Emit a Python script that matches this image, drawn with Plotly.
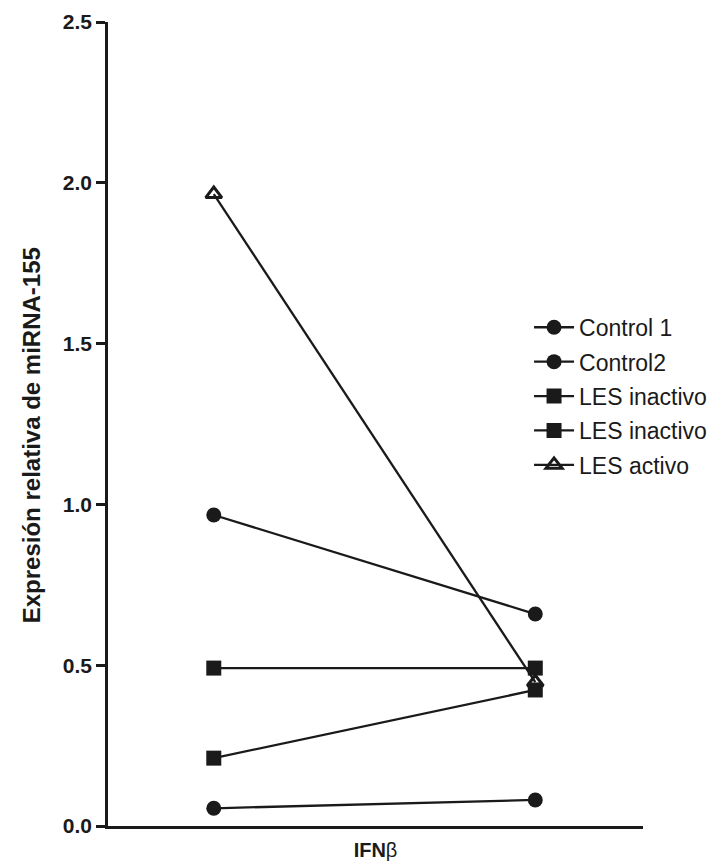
import plotly.graph_objects as go

# Data
x_positions = [0, 1]
series_names = ["Control 1", "Control2", "LES inactivo", "LES inactivo", "LES activo"]
control1 = [0.055, 0.081]
control2 = [0.967, 0.659]
les_inactivo_1 = [0.491, 0.491]
les_inactivo_2 = [0.211, 0.423]
les_activo = [1.965, 0.447]
y_ticks = [0.0, 0.5, 1.0, 1.5, 2.0, 2.5]
y_tick_labels = ["0.0", "0.5", "1.0", "1.5", "2.0", "2.5"]
y_title = "Expresión relativa de miRNA-155"
x_title = "<b>IFN</b>β"

series_values = [control1, control2, les_inactivo_1, les_inactivo_2, les_activo]
symbols = ["circle", "circle", "square", "square", "triangle-up-open"]
draw_order = [4, 0, 1, 2, 3]

ink = "#1a1a1a"
font_family = "Liberation Sans, Arial, sans-serif"

fig = go.Figure()
for i in range(5):
    sym = symbols[i]
    is_open = sym.endswith("open")
    fig.add_trace(go.Scatter(
        x=x_positions, y=series_values[i], mode="lines+markers",
        name=series_names[i], legendgroup=f"g{i}", legendrank=i + 1,
        line=dict(color=ink, width=2.3),
        marker=dict(symbol=sym, size=15 if not is_open else 14, color=ink,
                    line=dict(color=ink, width=3 if is_open else 0)),
        showlegend=True,
    ))
# triangle drawn first (beneath)
fig.data = tuple(fig.data[j] for j in draw_order)

fig.update_layout(
    width=718, height=865,
    margin=dict(l=100, r=83, t=14, b=47, autoexpand=False),
    paper_bgcolor="white", plot_bgcolor="white",
    font=dict(family=font_family, color=ink),
    showlegend=True,
    legend=dict(
        x=0.787, y=0.647, xanchor="left", yanchor="top",
        font=dict(size=23, family=font_family, color=ink),
        tracegroupgap=1.5, itemwidth=40,
        bgcolor="rgba(0,0,0,0)",
    ),
    xaxis=dict(
        range=[-0.329, 1.335], showgrid=False, zeroline=False,
        showline=True, linecolor=ink, linewidth=2.5, automargin=False,
        showticklabels=False, ticks="",
        title=dict(text=x_title, font=dict(size=20, family=font_family, color=ink), standoff=16),
    ),
    yaxis=dict(
        range=[0, 2.5], showgrid=False, zeroline=False, automargin=False,
        showline=True, linecolor=ink, linewidth=2.5,
        ticks="outside", ticklen=9, tickwidth=2.5, tickcolor=ink,
        tickvals=y_ticks, ticktext=[f"<b>{t}</b>" for t in y_tick_labels],
        tickfont=dict(size=21, family=font_family, color=ink),
    ),
    annotations=[dict(
        text=f"<b>{y_title}</b>", textangle=-90,
        xref="paper", yref="paper", x=0, y=0.486,
        xanchor="center", yanchor="middle", xshift=-77,
        showarrow=False, font=dict(size=24, family=font_family, color=ink),
    )],
)

fig.write_html("out.html")
